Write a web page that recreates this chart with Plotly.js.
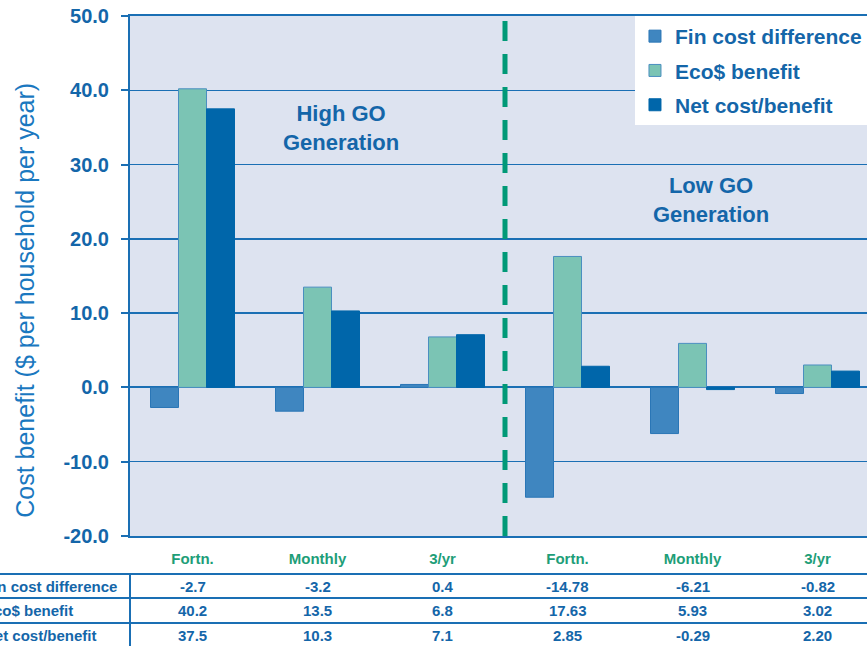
<!DOCTYPE html>
<html>
<head>
<meta charset="utf-8">
<script src="https://cdn.plot.ly/plotly-3.0.1.min.js"></script>
<style>
html, body { margin: 0; padding: 0; overflow: hidden; background: #ffffff; }
#chart { width: 880px; height: 646px; }
</style>
</head>
<body>
<div id="chart"></div>
<script>
// ---- data ----
var categories = ["Fortn.", "Monthly", "3/yr", "Fortn.", "Monthly", "3/yr"];
var seriesNames = ["Fin cost difference", "Eco$ benefit", "Net cost/benefit"];
var finCost = [-2.7, -3.2, 0.4, -14.78, -6.21, -0.82];
var ecoBenefit = [40.2, 13.5, 6.8, 17.63, 5.93, 3.02];
var netBenefit = [37.5, 10.3, 7.1, 2.85, -0.29, 2.20];
var decimals = [1, 1, 1, 2, 2, 2];
var yTickValues = [-20, -10, 0, 10, 20, 30, 40, 50];
var yTickLabels = ["-20.0", "-10.0", "0.0", "10.0", "20.0", "30.0", "40.0", "50.0"];
var groupLabels = ["High GO<br>Generation", "Low GO<br>Generation"];
var yTitle = "Cost benefit ($ per household per year)";

// ---- styling ----
var BLUE = "#1466a9";
var LINE = "#1a6fb4";
var GREEN = "#1e9e78";
var FONT = "Liberation Sans, Arial, sans-serif";
var colors = ["#3f86c0", "#7bc4b4", "#0066aa"];
var outlines = ["#2a76b6", "#4a8fc0", "#0066aa"];

var xIdx = categories.map(function (c, i) { return i; });
var allSeries = [finCost, ecoBenefit, netBenefit];

var traces = allSeries.map(function (vals, k) {
  return {
    type: "bar",
    name: seriesNames[k],
    x: xIdx,
    y: vals,
    legendgroup: "g" + k,
    marker: { color: colors[k], line: { color: outlines[k], width: 1 } },
    hoverinfo: "y"
  };
});

var annotations = [];
annotations.push({
  x: 1.19, y: 34.9, xref: "x", yref: "y", text: groupLabels[0], showarrow: false,
  font: { family: FONT, size: 22, color: BLUE, weight: "bold" }, align: "center"
});
annotations.push({
  x: 4.15, y: 25.2, xref: "x", yref: "y", text: groupLabels[1], showarrow: false,
  font: { family: FONT, size: 22, color: BLUE, weight: "bold" }, align: "center"
});

// table rows
var rowY = [-0.098, -0.144, -0.192];
allSeries.forEach(function (vals, k) {
  annotations.push({
    x: -0.1973, y: rowY[k], xref: "paper", yref: "paper", xanchor: "left", yanchor: "middle",
    text: seriesNames[k], showarrow: false,
    font: { family: FONT, size: 15, color: BLUE, weight: "bold" }
  });
  vals.forEach(function (v, i) {
    annotations.push({
      x: xIdx[i], y: rowY[k], xref: "x", yref: "paper", xanchor: "center", yanchor: "middle",
      text: v.toFixed(decimals[i]), showarrow: false,
      font: { family: FONT, size: 15, color: BLUE, weight: "bold" }
    });
  });
});

var tableLineY = [-0.0731, -0.1192, -0.1673];
var shapes = [];
tableLineY.forEach(function (yy) {
  shapes.push({ type: "line", xref: "paper", yref: "paper", x0: -0.2, x1: 1.05, y0: yy, y1: yy,
    line: { color: LINE, width: 2 } });
});
shapes.push({ type: "line", xref: "paper", yref: "paper", x0: 0, x1: 0, y0: -0.0731, y1: -0.22,
  line: { color: LINE, width: 2 } });
shapes.push({ type: "line", xref: "x", yref: "paper", x0: 2.5, x1: 2.5, y0: 0, y1: 1,
  line: { color: "#009977", width: 5, dash: "20px,13px" } });

// invisible trailing text shifts the rotated title slightly downward, as in the original
var titlePad = '<span style="color:rgba(0,0,0,0)">.......</span>';

var layout = {
  width: 880, height: 646,
  margin: { l: 130, r: 0, t: 16, b: 110 },
  paper_bgcolor: "#ffffff",
  plot_bgcolor: "#dde3f0",
  barmode: "group",
  bargap: 0.328,
  bargroupgap: 0,
  font: { family: FONT, color: BLUE },
  showlegend: true,
  legend: {
    x: 0.6733, y: 1.0, xanchor: "left", yanchor: "top",
    bgcolor: "#ffffff", borderwidth: 0,
    font: { family: FONT, size: 21, color: BLUE, weight: "bold" },
    traceorder: "grouped", tracegroupgap: 4
  },
  xaxis: {
    range: [-0.5, 5.5],
    tickvals: xIdx, ticktext: categories,
    tickfont: { family: FONT, size: 15, color: GREEN, weight: "bold" },
    ticks: "", showgrid: false, zeroline: false,
    showline: true, mirror: true, linecolor: LINE, linewidth: 2,
    ticklabelstandoff: 8,
    fixedrange: true
  },
  yaxis: {
    range: [-20, 50],
    tickvals: yTickValues, ticktext: yTickLabels,
    tickfont: { family: FONT, size: 20, color: BLUE, weight: "bold" },
    ticks: "outside", ticklen: 7, tickwidth: 2, tickcolor: LINE,
    showgrid: true, gridcolor: LINE, gridwidth: 1.5,
    zeroline: true, zerolinecolor: LINE, zerolinewidth: 2,
    showline: true, linecolor: LINE, linewidth: 2,
    ticklabelstandoff: 8,
    title: { text: yTitle + titlePad, standoff: 22,
      font: { family: FONT, size: 25, color: "#1a78c0" } },
    fixedrange: true
  },
  annotations: annotations,
  shapes: shapes
};

Plotly.newPlot("chart", traces, layout, { displayModeBar: false, staticPlot: true });
</script>
</body>
</html>
